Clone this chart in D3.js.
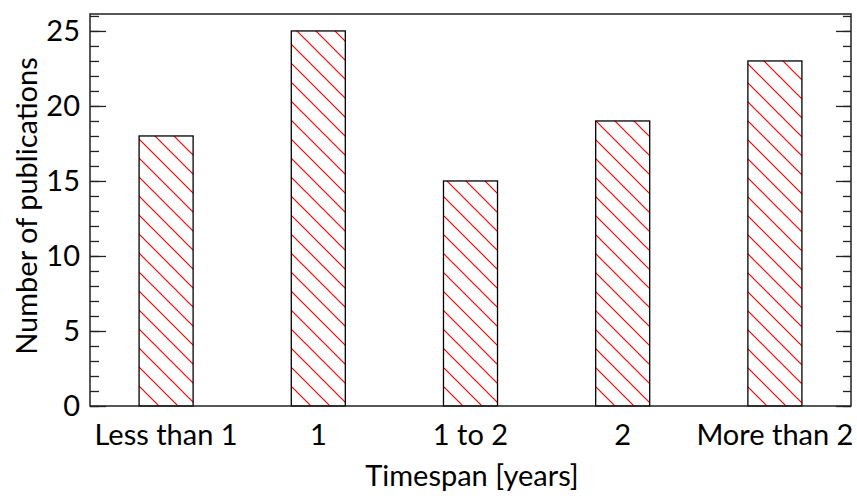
<!DOCTYPE html>
<html>
<head>
<meta charset="utf-8">
<script src="https://cdn.jsdelivr.net/npm/d3@7"></script>
<style>
  body { margin: 0; background: #fff; }
  text { font-family: Lato, "Open Sans", sans-serif; fill: #000; }
</style>
</head>
<body>
<script>
// data
var categories = ["Less than 1", "1", "1 to 2", "2", "More than 2"];
var counts = [18, 25, 15, 19, 23];
var yTicks = [0, 5, 10, 15, 20, 25];

var width = 857, height = 498;
var plotLeft = 90, plotRight = 851, plotTop = 14, plotBottom = 406;

var svg = d3.select("body").append("svg")
    .attr("width", width)
    .attr("height", height);

// hatch pattern for the bars
var pat = svg.append("defs").append("pattern")
    .attr("id", "hatch")
    .attr("patternUnits", "userSpaceOnUse")
    .attr("width", 19)
    .attr("height", 19);
pat.append("path")
    .attr("d", "M0,0 L19,19 M-2,17 L2,21 M17,-2 L21,2")
    .attr("stroke", "#ff0000")
    .attr("stroke-width", 1.2)
    .attr("fill", "none");

var x = d3.scaleBand()
    .domain(categories)
    .range([plotLeft, plotRight])
    .paddingInner(0.645)
    .paddingOuter(0.3225);

var y = d3.scaleLinear()
    .domain([0, 26.13])
    .range([plotBottom, plotTop]);

// bars
svg.selectAll(".bar")
    .data(counts)
    .enter()
    .append("rect")
    .attr("class", "bar")
    .attr("x", function(d, i) { return x(categories[i]); })
    .attr("y", function(d) { return y(d); })
    .attr("width", x.bandwidth())
    .attr("height", function(d) { return y(0) - y(d); })
    .attr("fill", "url(#hatch)")
    .attr("stroke", "#000")
    .attr("stroke-width", 1.3);

// ticks, pointing in on both sides
var minor = d3.range(0, 27);
var leftAxis = d3.axisRight(y).tickValues(minor).tickSize(9).tickFormat("");
var rightAxis = d3.axisLeft(y).tickValues(minor).tickSize(8).tickFormat("");
var leftMajor = d3.axisRight(y).tickValues(yTicks).tickSize(16).tickFormat("");
var rightMajor = d3.axisLeft(y).tickValues(yTicks).tickSize(15).tickFormat("");

[[leftAxis, plotLeft], [leftMajor, plotLeft], [rightAxis, plotRight], [rightMajor, plotRight]].forEach(function(a) {
    var g = svg.append("g")
        .attr("transform", "translate(" + a[1] + ",0)")
        .call(a[0]);
    g.select(".domain").remove();
    g.selectAll("line").attr("stroke", "#222").attr("stroke-width", 1.3);
});

// frame
svg.append("rect")
    .attr("x", plotLeft)
    .attr("y", plotTop)
    .attr("width", plotRight - plotLeft)
    .attr("height", plotBottom - plotTop)
    .attr("fill", "none")
    .attr("stroke", "#222")
    .attr("stroke-width", 1.5);

// y tick labels
svg.selectAll(".ylab")
    .data(yTicks)
    .enter()
    .append("text")
    .attr("class", "ylab")
    .attr("x", plotLeft - 10)
    .attr("y", function(d) { return y(d); })
    .attr("dy", "0.36em")
    .attr("text-anchor", "end")
    .style("font-size", "29px")
    .text(function(d) { return d; });

// x tick labels
svg.selectAll(".xlab")
    .data(categories)
    .enter()
    .append("text")
    .attr("class", "xlab")
    .attr("x", function(d) { return x(d) + x.bandwidth() / 2; })
    .attr("y", 445)
    .attr("text-anchor", "middle")
    .style("font-size", "29px")
    .text(function(d) { return d; });

// axis titles
svg.append("text")
    .attr("x", 472)
    .attr("y", 486)
    .attr("text-anchor", "middle")
    .style("font-size", "29px")
    .text("Timespan [years]");

svg.append("text")
    .attr("transform", "translate(37,206) rotate(-90)")
    .attr("text-anchor", "middle")
    .style("font-size", "29px")
    .text("Number of publications");
</script>
</body>
</html>
